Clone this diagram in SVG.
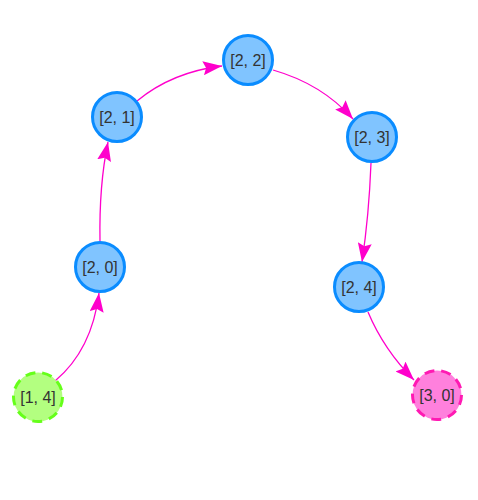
<svg xmlns="http://www.w3.org/2000/svg" width="478" height="500" viewBox="0 0 478 500">
<style>
.edge{fill:none;stroke:#ff00cc;stroke-width:1.3}
.n circle{stroke-width:3}
.blue circle{fill:#80c4ff;stroke:#0a8cff}
.green circle{fill:#b3ff80;stroke:#66ff1a;stroke-dasharray:10 7}
.pink circle{fill:#ff80dd;stroke:#ff1ab3;stroke-dasharray:10 7}
.n text{font-family:"Liberation Sans",Arial,sans-serif;font-size:16px;fill:#333;text-anchor:middle;dominant-baseline:central}
</style>
<defs>
<marker id="arr" markerUnits="userSpaceOnUse" markerWidth="20" markerHeight="14" refX="19" refY="7" orient="auto" viewBox="0 0 20 14">
<path d="M0,0 L19,7 L0,14 L3,7 z" fill="#ff00cc"/>
</marker>
</defs>
<rect width="478" height="500" fill="#fff"/>
<g id="edges">
<path class="edge" d="M55,381 Q92,350 99,293" marker-end="url(#arr)"/>
<path class="edge" d="M100,241 Q99,185 108,142" marker-end="url(#arr)"/>
<path class="edge" d="M137,101 Q172,72 222,66" marker-end="url(#arr)"/>
<path class="edge" d="M273,70 Q322,84 353,119" marker-end="url(#arr)"/>
<path class="edge" d="M371,163 Q369,215 362,262" marker-end="url(#arr)"/>
<path class="edge" d="M368,312 Q384,350 414,380" marker-end="url(#arr)"/>
</g>
<g id="n22" class="n blue"><circle cx="248" cy="60" r="24.5"/><text x="248" y="60">[2, 2]</text></g>
<g id="n21" class="n blue"><circle cx="117" cy="117" r="24.5"/><text x="117" y="117">[2, 1]</text></g>
<g id="n23" class="n blue"><circle cx="372" cy="137" r="24.5"/><text x="372" y="137">[2, 3]</text></g>
<g id="n20" class="n blue"><circle cx="100" cy="267" r="24.5"/><text x="100" y="267">[2, 0]</text></g>
<g id="n24" class="n blue"><circle cx="359" cy="287" r="24.5"/><text x="359" y="287">[2, 4]</text></g>
<g id="n14" class="n green"><circle cx="38" cy="397" r="24.5"/><text x="38" y="397">[1, 4]</text></g>
<g id="n30" class="n pink"><circle cx="437" cy="395" r="24.5"/><text x="437" y="395">[3, 0]</text></g>
</svg>
